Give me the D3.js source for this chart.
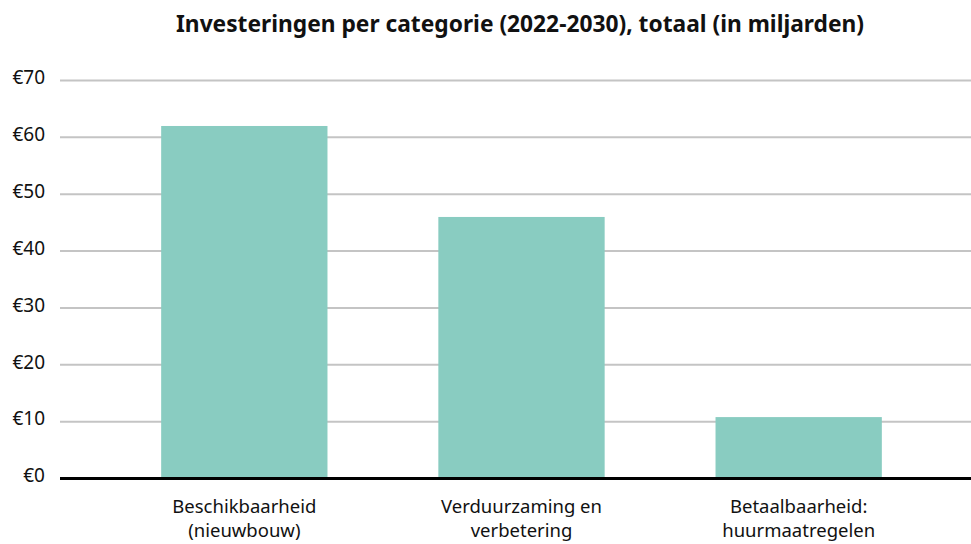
<!DOCTYPE html>
<html>
<head>
<meta charset="utf-8">
<script src="https://cdn.jsdelivr.net/npm/d3@7"></script>
<style>
body { margin: 0; background: #fff; }
text { font-family: "Noto Sans", sans-serif; fill: #111; }
</style>
</head>
<body>
<div id="chart"></div>
<script>
var categories = [
    ["Beschikbaarheid", "(nieuwbouw)"],
    ["Verduurzaming en", "verbetering"],
    ["Betaalbaarheid:", "huurmaatregelen"]
];
var values = [62, 46, 10.8];
var yTicks = [0, 10, 20, 30, 40, 50, 60, 70];
var title = "Investeringen per categorie (2022-2030), totaal (in miljarden)";

var width = 971, height = 544;

var svg = d3.select('#chart').append('svg')
    .attr('width', width)
    .attr('height', height);

var x = d3.scaleBand()
    .domain(d3.range(categories.length))
    .range([60, 983])
    .paddingInner(0.4)
    .paddingOuter(0.365);

var y = d3.scaleLinear()
    .domain([0, 70])
    .range([478.5, 80.5]);

// title
svg.append('text')
    .attr('x', 520)
    .attr('y', 32)
    .attr('text-anchor', 'middle')
    .attr('font-size', 23)
    .attr('font-weight', 'bold')
    .attr('textLength', 688)
    .attr('lengthAdjust', 'spacingAndGlyphs')
    .text(title);

// gridlines
svg.append('g')
    .selectAll('line')
    .data(yTicks.filter(function(d) { return d > 0; }))
    .enter().append('line')
    .attr('x1', 60)
    .attr('x2', width)
    .attr('y1', function(d) { return y(d); })
    .attr('y2', function(d) { return y(d); })
    .attr('stroke', '#c4c4c4')
    .attr('stroke-width', 2);

// y labels
svg.append('g')
    .selectAll('text')
    .data(yTicks)
    .enter().append('text')
    .attr('x', 45)
    .attr('y', function(d) { return y(d); })
    .attr('dy', '0.2em')
    .attr('text-anchor', 'end')
    .attr('font-size', 19)
    .text(function(d) { return '€' + d; });

// bars
svg.append('g')
    .selectAll('rect')
    .data(values)
    .enter().append('rect')
    .attr('x', function(d, i) { return x(i); })
    .attr('y', function(d) { return y(d); })
    .attr('width', x.bandwidth())
    .attr('height', function(d) { return y(0) - y(d); })
    .attr('fill', '#89ccc1');

// zero line
svg.append('line')
    .attr('x1', 60)
    .attr('x2', width)
    .attr('y1', y(0))
    .attr('y2', y(0))
    .attr('stroke', '#000')
    .attr('stroke-width', 3);

// category labels
var lab = svg.append('g')
    .selectAll('text')
    .data(categories)
    .enter().append('text')
    .attr('text-anchor', 'middle')
    .attr('font-size', 18.5)
    .attr('x', function(d, i) { return x(i) + x.bandwidth() / 2; })
    .attr('y', 513);

lab.selectAll('tspan')
    .data(function(d) { return d; })
    .enter().append('tspan')
    .attr('x', function() { return d3.select(this.parentNode).attr('x'); })
    .attr('dy', function(d, i) { return i === 0 ? 0 : 24; })
    .text(function(d) { return d; });
</script>
</body>
</html>
